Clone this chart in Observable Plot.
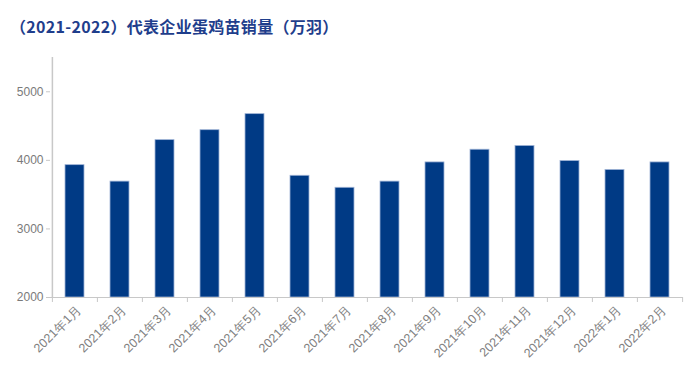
<!DOCTYPE html>
<html>
<head>
<meta charset="utf-8">
<script src="https://cdn.jsdelivr.net/npm/d3@7"></script>
<script src="https://cdn.jsdelivr.net/npm/@observablehq/plot@0.6"></script>
<style>
  html, body { margin: 0; padding: 0; background: #fff; }
  #title { position: absolute; left: 10px; top: 14px; font-family: "Noto Sans CJK SC", sans-serif; font-weight: bold; font-size: 16px; color: #1f3e8c; letter-spacing: 0.3px; white-space: nowrap; }
  #chart { position: absolute; left: 0; top: 45px; }
</style>
</head>
<body>
<div id="title">（2021-2022）代表企业蛋鸡苗销量（万羽）</div>
<div id="chart"></div>
<script>
const months = ["2021年1月","2021年2月","2021年3月","2021年4月","2021年5月","2021年6月","2021年7月","2021年8月","2021年9月","2021年10月","2021年11月","2021年12月","2022年1月","2022年2月"];
const sales = [3930, 3690, 4295, 4440, 4674, 3775, 3600, 3690, 3970, 4155, 4210, 3990, 3860, 3970];
const yTicks = [2000, 3000, 4000, 5000];

const data = months.map((m, i) => ({month: m, value: sales[i]}));

const width = 700, height = 343;
const marginLeft = 50, marginRight = 17, marginTop = 12, marginBottom = 91;
const bw = (width - marginLeft - marginRight) / months.length;
const yUnitsPerPx = (5500 - 2000) / (height - marginTop - marginBottom);

const chart = Plot.plot({
  width, height, marginLeft, marginRight, marginTop, marginBottom,
  style: {fontFamily: "Liberation Sans, Arial, sans-serif", fontSize: "12px", background: "#fff"},
  x: {domain: months, padding: 0.58, paddingOuter: 0.29, align: 0.5},
  y: {domain: [2000, 5500]},
  marks: [
    Plot.barY(data, {x: "month", y1: 2000, y2: "value", fill: "#003a85", stroke: "#9fb3d6", strokeWidth: 0.8}),
    Plot.ruleY([2000], {stroke: "#c8c8c8", strokeWidth: 1.2}),
    Plot.ruleX(months, {x: d => d, dx: -bw / 2, y1: 2000, y2: 2000 - 5 * yUnitsPerPx, stroke: "#c8c8c8"}),
    Plot.ruleX([months[months.length - 1]], {x: d => d, dx: bw / 2, y1: 2000, y2: 2000 - 5 * yUnitsPerPx, stroke: "#c8c8c8"}),
    Plot.axisX({tickSize: 0, tickRotate: -45, textAnchor: "end", tickPadding: 10, dx: 4, fill: "#808080", fontSize: 12.5, label: null}),
    Plot.axisY({ticks: yTicks, tickFormat: "d", tickSize: 4, tickPadding: 3, stroke: "#c8c8c8", fill: "#7a7a7a", fontSize: 12, label: null}),
    Plot.ruleX([months[0]], {x: d => d, dx: -bw / 2, y1: 2000, y2: 5500, stroke: "#c8c8c8", strokeWidth: 1.5})
  ]
});
document.getElementById("chart").appendChild(chart);
</script>
</body>
</html>
